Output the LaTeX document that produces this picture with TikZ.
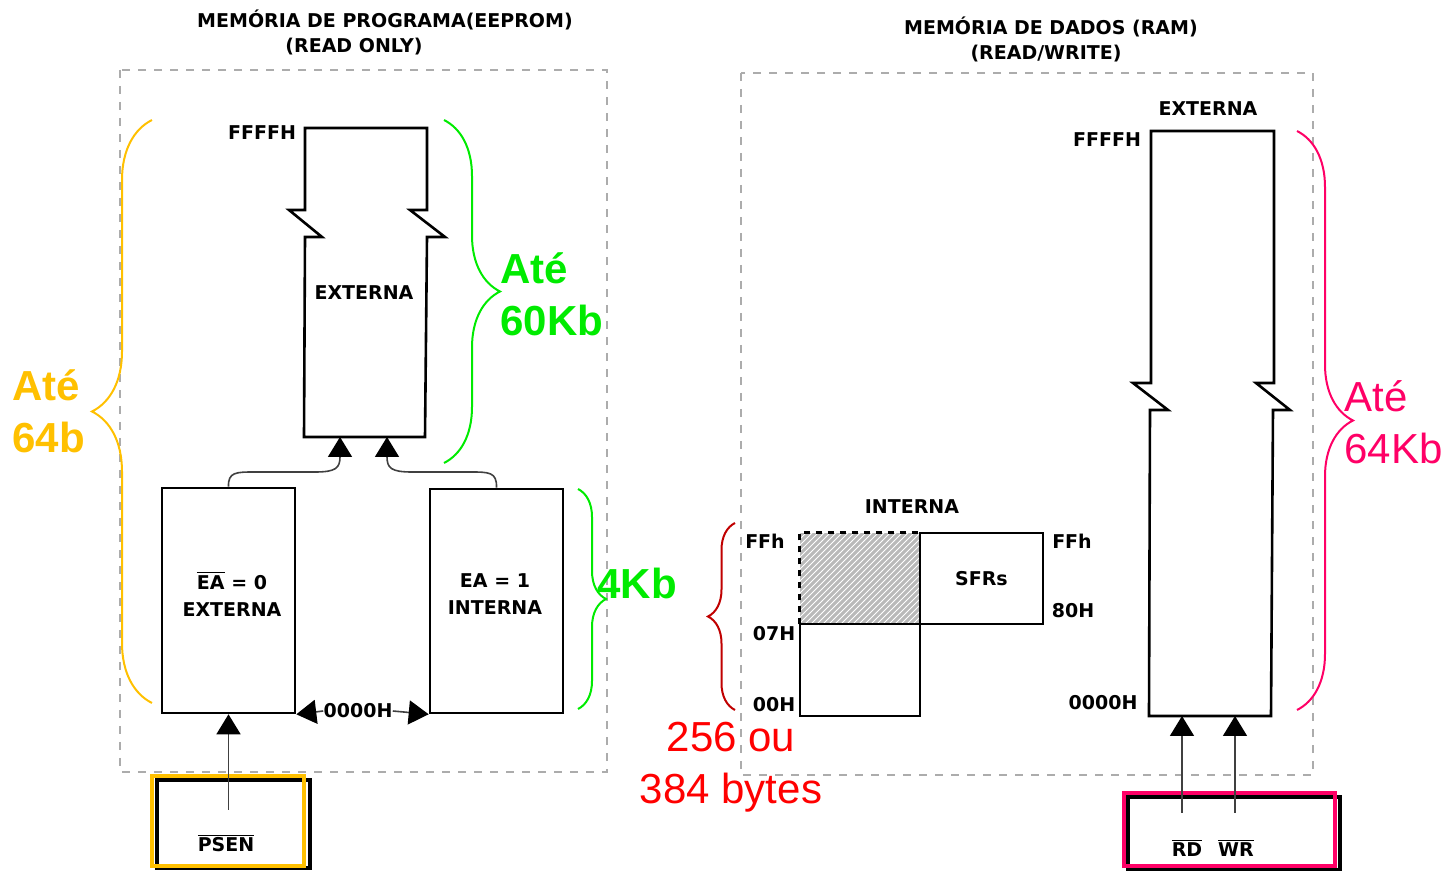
\documentclass[tikz,border=0pt]{standalone}
\usepackage{fontspec}
\setmainfont{DejaVu Sans}
\newfontfamily\arialfont{Liberation Sans}
\usetikzlibrary{arrows.meta,patterns,decorations.pathreplacing}
\definecolor{amarelo}{RGB}{255,192,0}
\definecolor{verde}{RGB}{0,235,0}
\definecolor{rosa}{RGB}{255,0,102}
\definecolor{vermelho}{RGB}{255,0,0}
\definecolor{vinho}{RGB}{192,0,0}
\newcommand{\barra}[1]{$\overline{\mbox{#1}}$}
\tikzset{
  lbl/.style={font=\fontsize{9.5}{13.5}\selectfont\bfseries, inner sep=0pt, align=center},
  big/.style={font=\arialfont\fontsize{21}{26}\selectfont, align=left, inner sep=0pt},
  bigb/.style={big, font=\arialfont\bfseries\fontsize{21}{26}\selectfont},
  membox/.style={draw, line width=1.3pt, inner sep=0pt},
  moldura/.style={draw=gray!65, line width=1pt, dash pattern=on 4pt off 4pt},
  seta/.style={draw=gray!50!black, line width=0.8pt, -{Triangle[width=12pt,length=10pt,color=black]}},
  chave/.style={decorate, decoration={brace, amplitude=#1}, line width=1pt},
}
\begin{document}
\begin{tikzpicture}[x=0.5pt,y=-0.5pt]
\useasboundingbox (0,0) rectangle (1448,871);
% memoria de programa
\node[lbl] (titP) at (385,20) {MEMÓRIA DE PROGRAMA(EEPROM)};
\node[lbl] (titP2) at (354,47) {(READ ONLY)};
\draw[moldura] (120,70) rectangle (607,772);
\draw[line width=1.3pt] (305,128) -- (305,210) -- (289,210) -- (322,237) -- (305,237) -- (304,437) -- (425,437) -- (427,237) -- (445,237) -- (410,210) -- (427,210) -- (427,128) -- cycle;
\node[lbl] (extP) at (364,293) {EXTERNA};
\node[lbl] (ffP) at (262,133) {FFFFH};
\coordinate (extP-a) at (340,437);
\coordinate (extP-b) at (387,437);
\node[membox, minimum width=66.5pt, minimum height=112.5pt] (ea0) at (228.5,600.5) {};
\node[membox, minimum width=66.5pt, minimum height=112pt] (ea1) at (496.5,601) {};
\node[lbl] (ea0t) at (232,594) {\barra{EA} = 0\\EXTERNA};
\node[lbl] (ea1t) at (495,594) {EA = 1\\INTERNA};
\draw[seta] (ea0.north) .. controls (228,472) and (236,472) .. (255,472) -- (315,472) .. controls (336,472) and (340,468) .. (extP-a);
\draw[seta] (ea1.north) .. controls (497,472) and (489,472) .. (470,472) -- (412,472) .. controls (391,472) and (387,468) .. (extP-b);
\node[lbl] (zero) at (358,711) {0000H};
\draw[seta] (zero.west) -- (ea0.south east);
\draw[seta] (zero.east) -- (ea1.south west);
% PSEN
\draw[line width=1.6pt] (157,780) rectangle (310,868);
\node[draw=amarelo, line width=1.6pt, minimum width=76pt, minimum height=45pt] (psen) at (228,821) {};
\node[lbl] (psenT) at (226,843) {\barra{PSEN}};
\coordinate (psen-in) at (228.5,810);
\draw[seta] (psen-in) -- (ea0.south);
% chaves
\draw[chave=30pt, amarelo] (152,703) -- (152,120);
\node[bigb, text=amarelo, anchor=west] (p64) at (12,411) {Até\\64b};
\draw[chave=28pt, verde] (444,120) -- (444,463);
\node[bigb, text=verde, anchor=west] (p60) at (500,294) {Até\\60Kb};
\draw[chave=14pt, verde] (578,489) -- (578,709);
\node[bigb, text=verde, anchor=west] (p4) at (597,583) {4Kb};
% memoria de dados
\node[lbl] (titD) at (1051,27) {MEMÓRIA DE DADOS (RAM)};
\node[lbl] (titD2) at (1046,54) {(READ/WRITE)};
\draw[moldura] (741,73) rectangle (1313,775);
\draw[line width=1.3pt] (1151,131) -- (1151,383) -- (1133,383) -- (1168,410) -- (1150,410) -- (1149,716) -- (1271,716) -- (1273,410) -- (1290,410) -- (1256,383) -- (1274,383) -- (1274,131) -- cycle;
\node[lbl] (extD) at (1208,109) {EXTERNA};
\node[lbl] (ffD) at (1107,140) {FFFFH};
\node[lbl] (zeroD) at (1103,703) {0000H};
\coordinate (extD-a) at (1182,716);
\coordinate (extD-b) at (1235,716);
\node[lbl] (intD) at (912,507) {INTERNA};
\node[minimum width=60pt, minimum height=45.5pt, inner sep=0pt, fill=gray!55, postaction={pattern=north east lines, pattern color=white}] (ramA) at (860,578.5) {};
\draw[line width=1.3pt, dashed] (ramA.south west) -- (ramA.north west) -- (ramA.north east);
\node[membox, minimum width=60pt, minimum height=46pt] (ramB) at (860,670) {};
\node[membox, lbl, minimum width=61.5pt, minimum height=45.5pt] (sfr) at (981.5,578.5) {SFRs};
\node[lbl] (ffA) at (765,541) {FFh};
\node[lbl] (h07) at (774,634) {07H};
\node[lbl] (h00) at (774,705) {00H};
\node[lbl] (ffB) at (1072,541) {FFh};
\node[lbl] (h80) at (1073,611) {80H};
\draw[chave=13.5pt, vinho] (735,710) -- (735,523);
\node[big, text=vermelho, align=center] (bytes) at (731,767) {256 ou\\384 bytes};
\draw[chave=28pt, rosa] (1297,131) -- (1297,710);
\node[big, text=rosa, anchor=west] (d64) at (1344,422) {Até\\64Kb};
% RD / WR
\draw[line width=1.6pt] (1128,797) rectangle (1340,870);
\node[draw=rosa, line width=1.6pt, minimum width=105.5pt, minimum height=36.5pt] (rw) at (1229.5,829.5) {};
\node[lbl] (rd) at (1187,848) {\barra{RD}};
\node[lbl] (wr) at (1236,848) {\barra{WR}};
\coordinate (rd-in) at (1182,813);
\coordinate (wr-in) at (1235,813);
\draw[seta] (rd-in) -- (extD-a);
\draw[seta] (wr-in) -- (extD-b);
\end{tikzpicture}
\end{document}
